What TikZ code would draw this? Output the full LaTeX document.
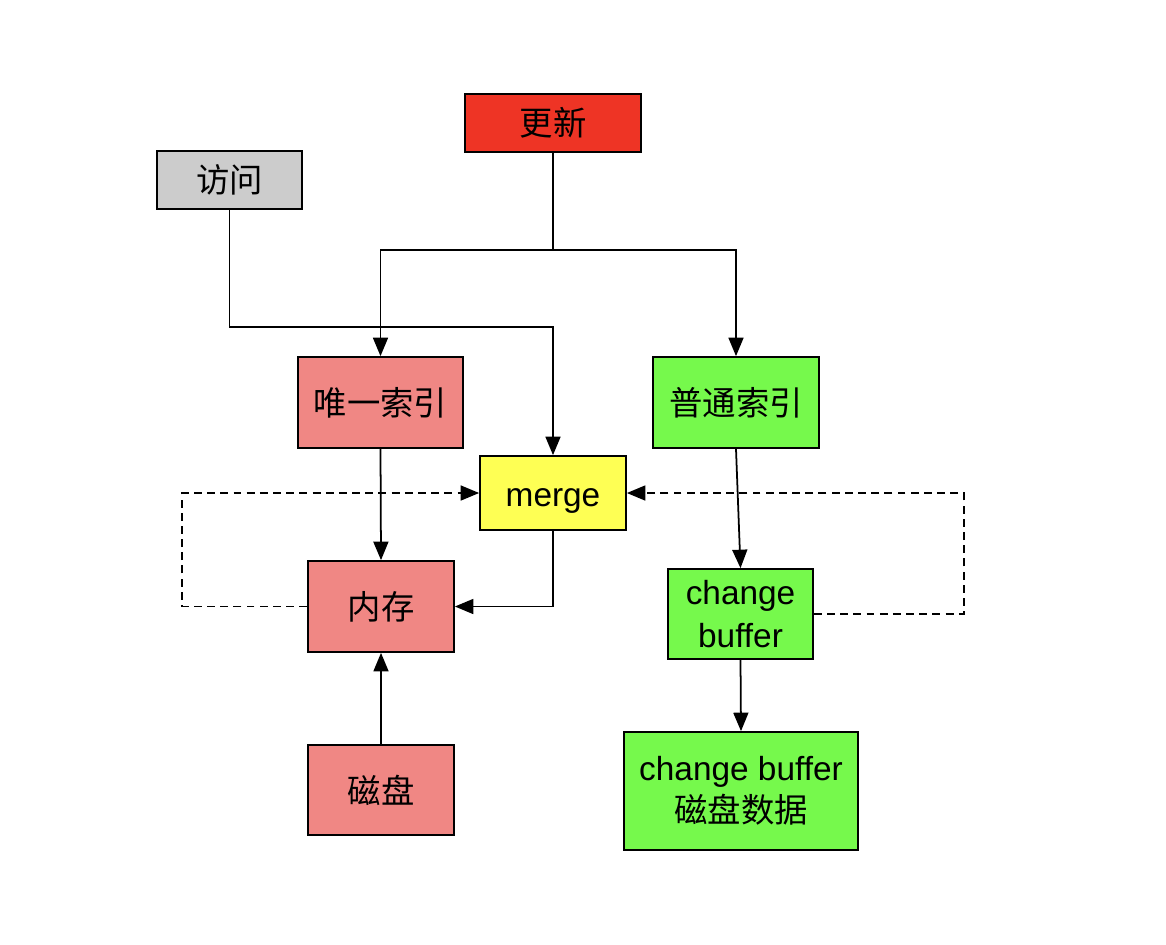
\documentclass[tikz,border=0pt]{standalone}
\usepackage{fontspec}
\setmainfont{Liberation Sans}
\newfontfamily\cjk{Noto Sans CJK SC}
\usetikzlibrary{arrows.meta}

\begin{document}
\begin{tikzpicture}[x = 0.02cm, y = -0.02cm, line width = 1pt,
            arr/.style = {-{Triangle[length = 10.5pt, width = 8.5pt]}},
            box/.style = {draw, line width = 1pt, align = center, inner sep = 0pt, font = \fontsize{19}{24}\selectfont},
            redbox/.style = {box, fill = {rgb,255:red,238; green,52; blue,37}},
            greybox/.style = {box, fill = {rgb,255:red,204; green,204; blue,204}},
            pinkbox/.style = {box, fill = {rgb,255:red,240; green,135; blue,132}},
            greenbox/.style = {box, fill = {rgb,255:red,118; green,249; blue,76}},
            yellowbox/.style = {box, fill = {rgb,255:red,254; green,255; blue,84}},
            back/.style = {arr, dash pattern = on 4.5pt off 3pt}]
            \useasboundingbox (0, 0) rectangle (1166, 944);

            \node[redbox, minimum width = 3.52cm, minimum height = 1.16cm] (gengxin) at (553, 123) {\cjk 更新};
            \node[greybox, minimum width = 2.9cm, minimum height = 1.16cm] (fangwen) at (229.5, 180) {\cjk 访问};
            \node[pinkbox, minimum width = 3.3cm, minimum height = 1.82cm] (weiyi) at (380.5, 402.5) {\cjk 唯一索引};
            \node[greenbox, minimum width = 3.32cm, minimum height = 1.82cm] (putong) at (736, 402.5) {\cjk 普通索引};
            \node[yellowbox, minimum width = 2.92cm, minimum height = 1.48cm] (merge) at (553, 493) {\raisebox{-2.5pt}[\height][0pt]{merge}};
            \node[pinkbox, minimum width = 2.92cm, minimum height = 1.82cm] (neicun) at (381, 606.5) {\cjk 内存};
            \node[greenbox, minimum width = 2.9cm, minimum height = 1.8cm] (cbuf) at (740.5, 614) {change\\buffer};
            \node[pinkbox, minimum width = 2.92cm, minimum height = 1.8cm] (cipan) at (381, 790) {\cjk 磁盘};
            \node[greenbox, minimum width = 4.68cm, minimum height = 2.36cm] (cbdisk) at (741, 791) {change buffer\\{\cjk 磁盘数据}};

            \coordinate (fwturn) at (553, 327);

            \draw[arr] (gengxin.south) -- ++(0, 97) -| (weiyi.north);
            \draw[arr] (gengxin.south) -- ++(0, 97) -| (putong.north);
            \draw[arr] (fangwen.south) |- (fwturn) -- (merge.north);
            \draw[arr] (weiyi.south) -- (neicun.north);
            \draw[arr] (putong.south) -- (cbuf.north);
            \draw[arr] (merge.south) |- (neicun.east);
            \draw[arr] (cbuf.south) -- (cbdisk.north);
            \draw[arr] (cipan.north) -- (neicun.south);

            \draw[back] (neicun.west) -- ++(-125, 0) |- (merge.west);
            \draw[back] (cbuf.east) -- ++(150, 0) |- (merge.east);

        \end{tikzpicture}
\end{document}
